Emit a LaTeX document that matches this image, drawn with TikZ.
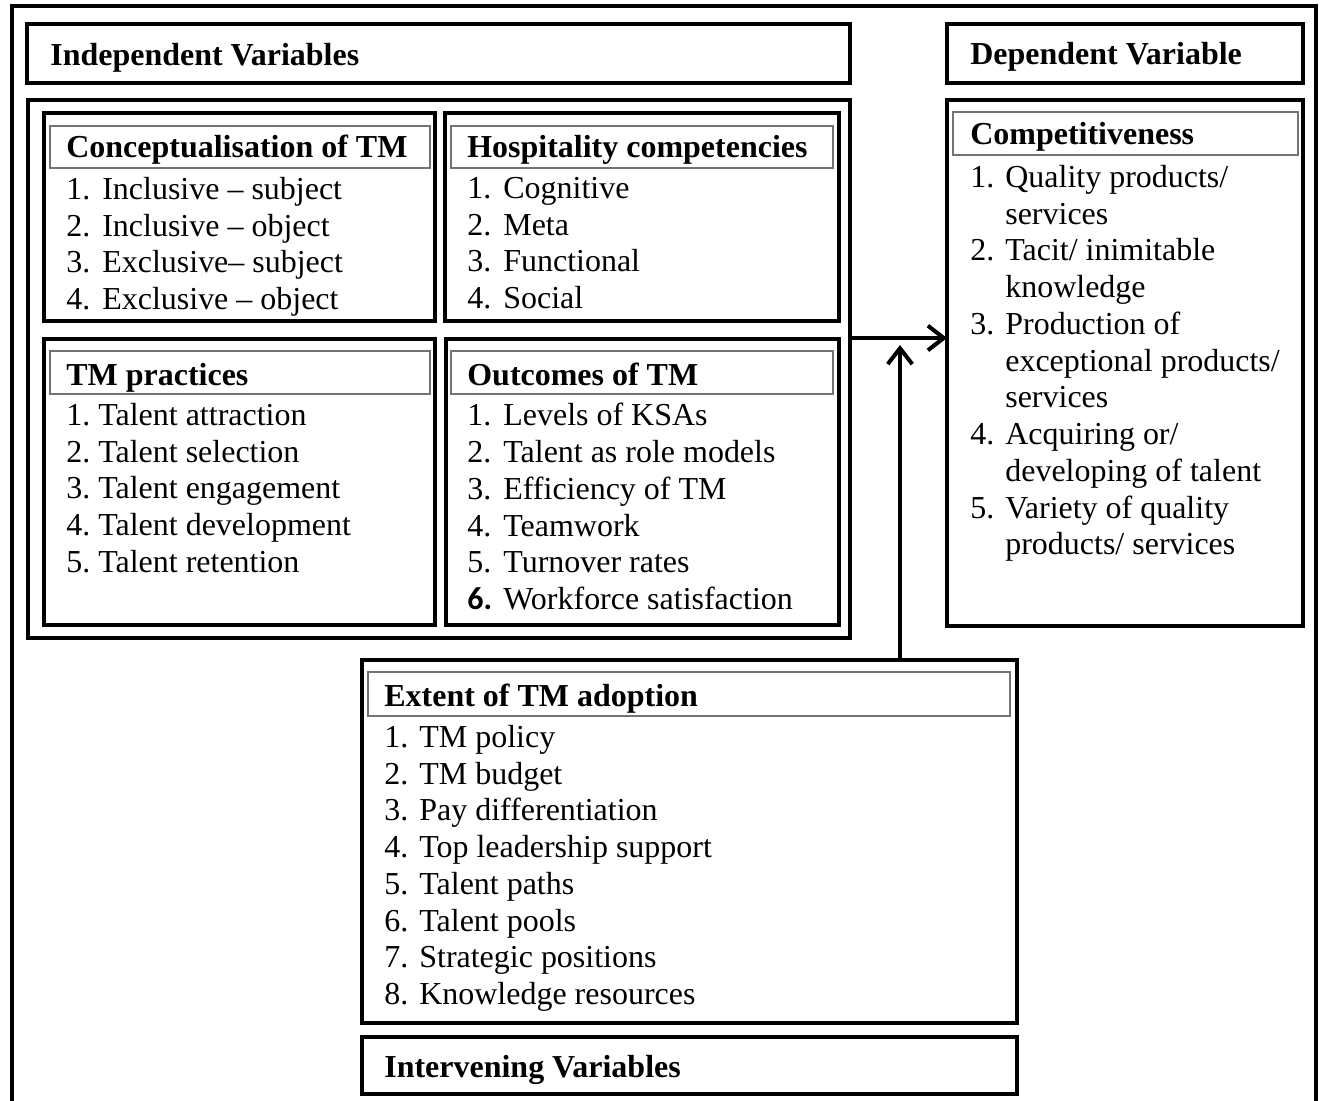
\documentclass[tikz,border=0pt]{standalone}
\usepackage{fontspec}
\setmainfont{Liberation Serif}
\newfontfamily\numfont{Carlito}
\usetikzlibrary{positioning,arrows.meta}
\newcommand{\px}{0.02cm}
\newcommand{\itm}[3][0.72cm]{\makebox[#1][l]{#2}#3}
\newcommand{\cont}[2][0.72cm]{\hspace*{#1}#2}

\begin{document}
\begin{tikzpicture}[
    x=0.02cm, y=-0.02cm,
    font=\fontsize{18.2}{20.9}\selectfont,
    frame/.style={
      draw, line width=2.5pt, inner sep=0pt, outer sep=0pt, anchor=north west
    },
    headbar/.style={
      draw=black!55, line width=0.9pt, inner sep=0pt, outer sep=0pt, anchor=north west
    },
    title/.style={font=\fontsize{18.2}{20.9}\selectfont\bfseries, anchor=base west, inner sep=0pt},
    items/.style={align=left, anchor=north west, inner sep=0pt},
    flow/.style={-{Straight Barb[length=9pt,width=14pt]}, line width=2.3pt},
  ]
    \useasboundingbox (0,0) rectangle (1324,1101);

    %── Outer frame ─────────────────────────────────────────────────────
    \node[frame, minimum width=1304*\px, minimum height=1120*\px] (outer) at (12,6) {};

    %── Column titles ───────────────────────────────────────────────────
    \node[frame, minimum width=823*\px, minimum height=59*\px] (ivtitle) at (27,24) {};
    \node[title] (ivlabel) at (50,66) {Independent Variables};
    \node[frame, minimum width=356*\px, minimum height=59*\px] (dvtitle) at (947,24) {};
    \node[title] (dvlabel) at (970,65) {Dependent Variable};

    %── Independent variables: four blocks ──────────────────────────────
    \node[frame, minimum width=822*\px, minimum height=538*\px] (ivbox) at (28,100) {};

    \node[frame, minimum width=391*\px, minimum height=208*\px] (concept) at (44,113) {};
    \node[headbar, minimum width=380*\px, minimum height=42*\px] (concepth) at (50,126) {};
    \node[title] (conceptl) at (66,158) {Conceptualisation of TM};
    \node[items] (conceptx) at (66,177)
      {\itm{1.}{Inclusive – subject}\\ \itm{2.}{Inclusive – object}\\
       \itm{3.}{Exclusive– subject}\\ \itm{4.}{Exclusive – object}};

    \node[frame, minimum width=394*\px, minimum height=208*\px] (hosp) at (445,113) {};
    \node[headbar, minimum width=382*\px, minimum height=42*\px] (hosph) at (451,126) {};
    \node[title] (hospl) at (467,158) {Hospitality competencies};
    \node[items] (hospx) at (467,177)
      {\itm{1.}{Cognitive}\\ \itm{2.}{Meta}\\ \itm{3.}{Functional}\\ \itm{4.}{Social}};

    \node[frame, minimum width=391*\px, minimum height=286*\px] (tmprac) at (44,339) {};
    \node[headbar, minimum width=380*\px, minimum height=43*\px] (tmprach) at (50,351) {};
    \node[title] (tmpracl) at (66,385) {TM practices};
    \node[items] (tmpracx) at (66,403)
      {\itm[0.64cm]{1.}{Talent attraction}\\ \itm[0.64cm]{2.}{Talent selection}\\
       \itm[0.64cm]{3.}{Talent engagement}\\ \itm[0.64cm]{4.}{Talent development}\\
       \itm[0.64cm]{5.}{Talent retention}};

    \node[frame, minimum width=393*\px, minimum height=286*\px] (outcome) at (446,339) {};
    \node[headbar, minimum width=382*\px, minimum height=43*\px] (outcomeh) at (451,351) {};
    \node[title] (outcomel) at (467,385) {Outcomes of TM};
    \node[items] (outcomex) at (467,403)
      {\itm{1.}{Levels of KSAs}\\ \itm{2.}{Talent as role models}\\
       \itm{3.}{Efficiency of TM}\\ \itm{4.}{Teamwork}\\ \itm{5.}{Turnover rates}\\
       \itm{{\numfont\bfseries 6.}}{Workforce satisfaction}};

    %── Dependent variable ──────────────────────────────────────────────
    \node[frame, minimum width=356*\px, minimum height=526*\px] (comp) at (947,100) {};
    \node[headbar, minimum width=345*\px, minimum height=43*\px] (comph) at (953,112) {};
    \node[title] (compl) at (970,145) {Competitiveness};
    \node[items] (compx) at (970,165)
      {\itm[0.70cm]{1.}{Quality products/}\\ \cont[0.70cm]{services}\\
       \itm[0.70cm]{2.}{Tacit/ inimitable}\\ \cont[0.70cm]{knowledge}\\
       \itm[0.70cm]{3.}{Production of}\\ \cont[0.70cm]{exceptional products/}\\
       \cont[0.70cm]{services}\\
       \itm[0.70cm]{4.}{Acquiring or/}\\ \cont[0.70cm]{developing of talent}\\
       \itm[0.70cm]{5.}{Variety of quality}\\ \cont[0.70cm]{products/ services}};

    %── Intervening variables ───────────────────────────────────────────
    \node[frame, minimum width=655*\px, minimum height=363*\px] (extent) at (362,660) {};
    \node[headbar, minimum width=642*\px, minimum height=44*\px] (extenth) at (368,672) {};
    \node[title] (extentl) at (384,706) {Extent of TM adoption};
    \node[items] (extentx) at (384,725)
      {\itm[0.70cm]{1.}{TM policy}\\ \itm[0.70cm]{2.}{TM budget}\\
       \itm[0.70cm]{3.}{Pay differentiation}\\ \itm[0.70cm]{4.}{Top leadership support}\\
       \itm[0.70cm]{5.}{Talent paths}\\ \itm[0.70cm]{6.}{Talent pools}\\
       \itm[0.70cm]{7.}{Strategic positions}\\ \itm[0.70cm]{8.}{Knowledge resources}};

    \node[frame, minimum width=655*\px, minimum height=57*\px] (invtitle) at (362,1037) {};
    \node[title] (invlabel) at (384,1077) {Intervening Variables};

    %── Arrows ──────────────────────────────────────────────────────────
    \coordinate (join) at (900,338);
    \draw[flow] (ivbox.east |- join) -- (comp.west |- join);
    \draw[flow, shorten >=4pt] (extent.north -| join) -- (join);

  \end{tikzpicture}
\end{document}
